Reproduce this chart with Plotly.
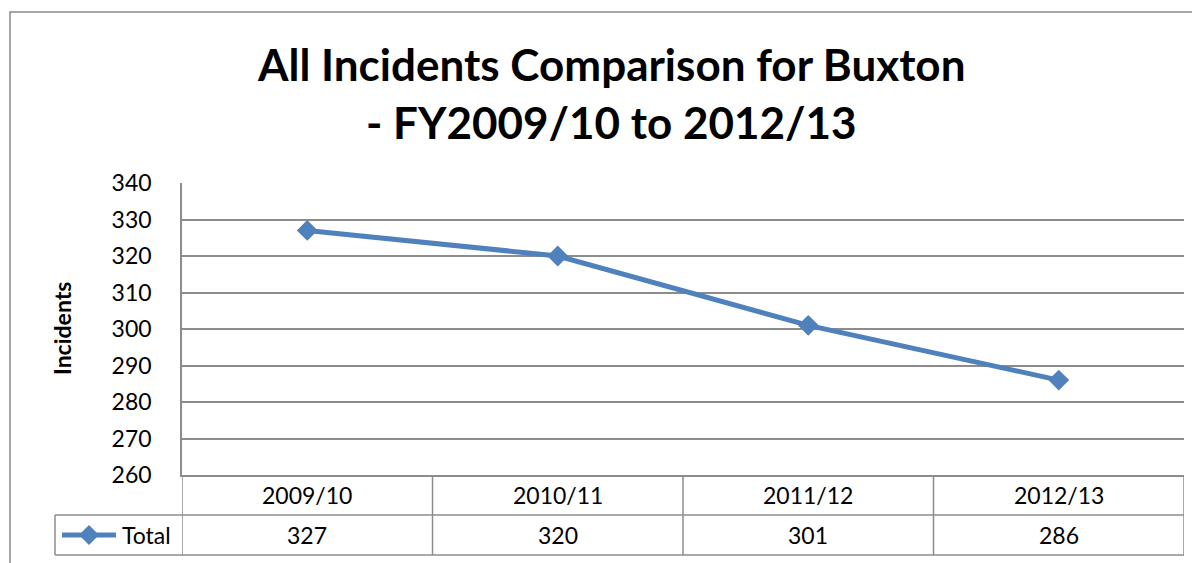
import plotly.graph_objects as go

categories = ["2009/10", "2010/11", "2011/12", "2012/13"]
totals = [327, 320, 301, 286]
series_name = "Total"
y_ticks = [260, 270, 280, 290, 300, 310, 320, 330, 340]

OFF = 8  # page body margin in browser
W, H = 1200 - OFF, 563 - OFF
L, R, T, B = 182 - OFF, 1184 - OFF, 183 - OFF, 475 - OFF
pw, ph = R - L, B - T
GRID = "#8c8c8c"
BLUE = "#4F81BD"
FONT = "Lato"


def px(x):
    return (x - OFF - L) / pw


def py(y):
    return (B - (y - OFF)) / ph


fig = go.Figure()
fig.add_trace(go.Scatter(
    x=categories, y=totals, mode="lines+markers", name=series_name,
    line=dict(color=BLUE, width=5),
    marker=dict(symbol="diamond", size=16, color=BLUE),
    showlegend=False, hoverinfo="x+y",
))

shapes = []
# outer chart frame
shapes.append(dict(type="rect", xref="paper", yref="paper",
                   x0=px(10), x1=px(1215), y0=py(580), y1=py(12),
                   line=dict(color="#8a8a8a", width=1.5), layer="below"))
# table horizontal lines
for yy in (515, 555):
    shapes.append(dict(type="line", xref="paper", yref="paper",
                       x0=px(55), x1=1, y0=py(yy), y1=py(yy),
                       line=dict(color=GRID, width=1.5)))
# table verticals at category boundaries
n = len(categories)
for i in range(n + 1):
    shapes.append(dict(type="line", xref="x", yref="paper",
                       x0=i - 0.5, x1=i - 0.5, y0=py(555), y1=0,
                       line=dict(color=GRID, width=1.5)))
# legend cell left edge
shapes.append(dict(type="line", xref="paper", yref="paper",
                   x0=px(55), x1=px(55), y0=py(555), y1=py(515),
                   line=dict(color=GRID, width=1.5)))
# legend key line
shapes.append(dict(type="line", xref="paper", yref="paper",
                   x0=px(62), x1=px(116), y0=py(535), y1=py(535),
                   line=dict(color=BLUE, width=5)))
# legend key diamond
cx, cy, r = 89, 535, 10
path = (f"M {px(cx - r)},{py(cy)} L {px(cx)},{py(cy - r)} "
        f"L {px(cx + r)},{py(cy)} L {px(cx)},{py(cy + r)} Z")
shapes.append(dict(type="path", xref="paper", yref="paper", path=path,
                   fillcolor=BLUE, line=dict(color=BLUE, width=0)))

annotations = []
annotations.append(dict(text="<b>All Incidents Comparison for Buxton</b>", xref="paper", yref="paper",
                        x=px(611), y=py(64), showarrow=False, xanchor="center", yanchor="middle",
                        font=dict(family=FONT, size=44, color="black")))
annotations.append(dict(text="<b>- FY2009/10 to 2012/13</b>", xref="paper", yref="paper",
                        x=px(611), y=py(122), showarrow=False, xanchor="center", yanchor="middle",
                        font=dict(family=FONT, size=44, color="black")))
annotations.append(dict(text="<b>Incidents</b>", xref="paper", yref="paper",
                        x=px(62), y=py(329), showarrow=False, textangle=-90,
                        xanchor="center", yanchor="middle",
                        font=dict(family=FONT, size=23, color="black")))
for c, v in zip(categories, totals):
    annotations.append(dict(text=c, xref="x", yref="paper", x=c, y=py(495),
                            showarrow=False, xanchor="center", yanchor="middle",
                            font=dict(family=FONT, size=23, color="black")))
    annotations.append(dict(text=str(v), xref="x", yref="paper", x=c, y=py(535),
                            showarrow=False, xanchor="center", yanchor="middle",
                            font=dict(family=FONT, size=23, color="black")))
annotations.append(dict(text=series_name, xref="paper", yref="paper", x=px(120), y=py(535),
                        showarrow=False, xanchor="left", yanchor="middle",
                        font=dict(family=FONT, size=23, color="black")))

fig.update_layout(
    width=W, height=H,
    margin=dict(l=L, r=W - R, t=T, b=H - B, pad=0),
    paper_bgcolor="white", plot_bgcolor="white",
    xaxis=dict(type="category", range=[-0.5, n - 0.5], showticklabels=False,
               showgrid=False, zeroline=False, showline=True, linecolor=GRID, linewidth=1.5,
               ticks=""),
    yaxis=dict(range=[260, 340], tickvals=y_ticks, showgrid=True, gridcolor=GRID, gridwidth=1.5,
               zeroline=False, showline=True, linecolor=GRID, linewidth=1.5,
               ticks="", ticklabelstandoff=24,
               tickfont=dict(family=FONT, size=23, color="black")),
    shapes=shapes, annotations=annotations, showlegend=False,
)

fig.write_html("out.html")
